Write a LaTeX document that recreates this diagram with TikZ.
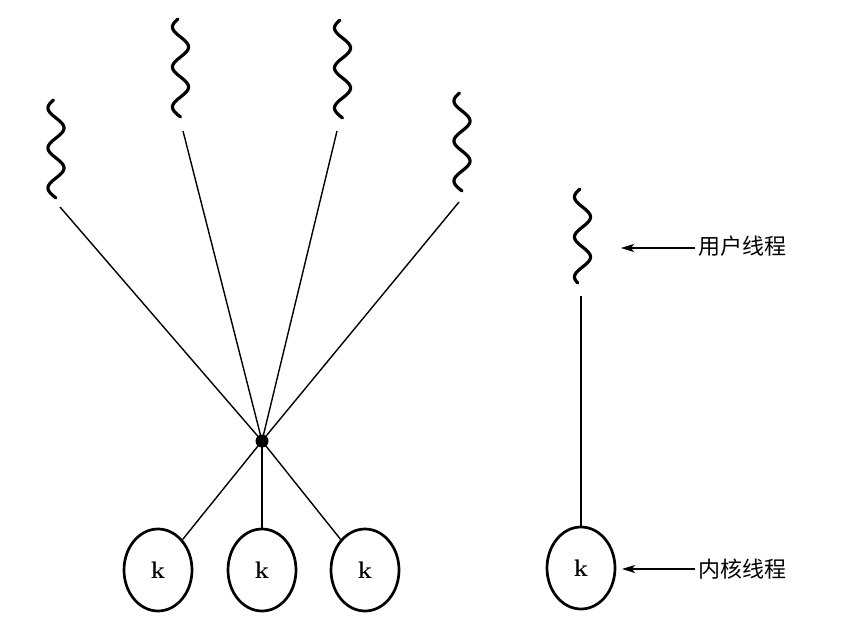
\documentclass[tikz,border=0pt]{standalone}
\usepackage{fontspec}
\setmainfont{Latin Modern Roman}
\newfontfamily\cjk{Noto Sans CJK SC}
\usetikzlibrary{shapes.geometric,arrows.meta}
\tikzset{
  squig/.style={line width=3.2pt,line cap=round},
  link/.style={line width=1.4pt},
  kth/.style={draw,ellipse,line width=2.7pt,minimum width=68pt,minimum height=82pt,inner sep=0pt},
  hub/.style={circle,fill=black,minimum size=13pt,inner sep=0pt},
  lbl/.style={font=\cjk\fontsize{22}{26}\selectfont,anchor=west,inner sep=0pt},
  pointer/.style={line width=1.4pt,-{Stealth[length=13pt,width=8pt,inset=3pt]}}
}
\newcommand{\squiggle}[3]{% cx, ytop, length
  \draw[squig] plot[domain=2:#3,samples=120,smooth] ({#1-8*sin(9*\x)},{#2+\x-2});
}
\newcommand{\kk}{\fontsize{24}{28}\selectfont\bfseries k}
\begin{document}
\begin{tikzpicture}[x=1pt,y=-1pt]
\useasboundingbox (0,0) rectangle (864,631);
% user threads (squiggles)
\squiggle{56}{100}{100}
\squiggle{180.5}{19}{100}
\squiggle{342.5}{20}{100}
\squiggle{462}{93}{100}
\squiggle{582.5}{189}{96}
% connector start points
\coordinate (u1) at (60,207);
\coordinate (u2) at (183,131);
\coordinate (u3) at (337,131);
\coordinate (u4) at (459,202);
\coordinate (u5) at (581,296);
% hub
\node[hub] (c) at (262,441) {};
% kernel threads
\node[kth] (k1) at (158,570) {\kk};
\node[kth] (k2) at (262,570) {\kk};
\node[kth] (k3) at (365,570) {\kk};
\node[kth] (k4) at (581,568) {\kk};
% links
\foreach \u in {u1,u2,u3,u4} \draw[link] (\u) -- (c.center);
\foreach \k in {k1,k2,k3} \draw[link] (c.center) -- (\k);
\draw[link] (u5) -- (k4);
% labels
\node[lbl] (t1) at (698,246) {用户线程};
\node[lbl] (t2) at (698,569) {内核线程};
\coordinate (a1) at (621,248);
\coordinate (a2) at (622,569);
\draw[pointer] (t1.west |- a1) ++(-3,0) -- (a1);
\draw[pointer] (t2.west |- a2) ++(-3,0) -- (a2);
\end{tikzpicture}
\end{document}
